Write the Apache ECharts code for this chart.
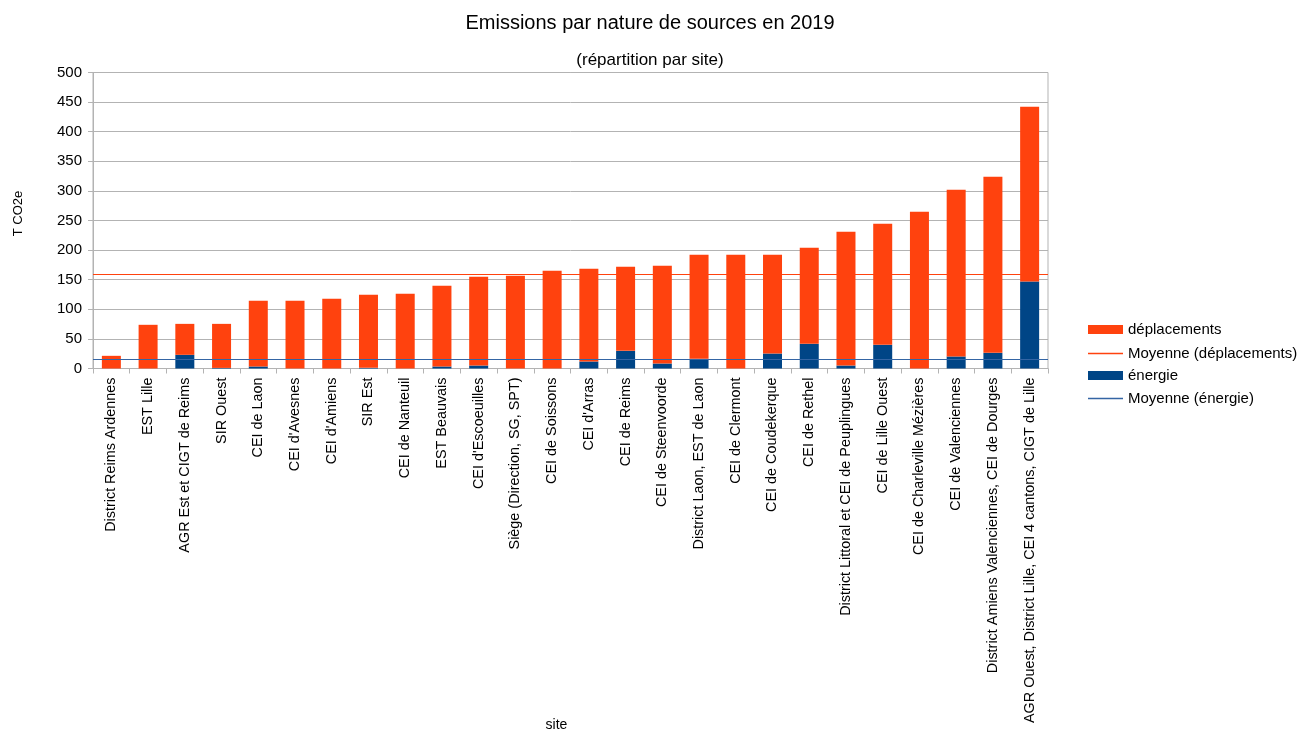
<!DOCTYPE html>
<html>
<head>
<meta charset="utf-8">
<script src="https://cdn.jsdelivr.net/npm/echarts@6/dist/echarts.min.js"></script>
<style>
html,body{margin:0;padding:0;background:#fff;}
#main{width:1301px;height:729px;}
</style>
</head>
<body>
<div id="main"></div>
<script>
const categories = [
  "District Reims Ardennes",
  "EST Lille",
  "AGR Est et CIGT de Reims",
  "SIR Ouest",
  "CEI de Laon",
  "CEI d'Avesnes",
  "CEI d'Amiens",
  "SIR Est",
  "CEI de Nanteuil",
  "EST Beauvais",
  "CEI d'Escoeuilles",
  "Siège (Direction, SG, SPT)",
  "CEI de Soissons",
  "CEI d'Arras",
  "CEI de Reims",
  "CEI de Steenvoorde",
  "District Laon, EST de Laon",
  "CEI de Clermont",
  "CEI de Coudekerque",
  "CEI de Rethel",
  "District Littoral et CEI de Peuplingues",
  "CEI de Lille Ouest",
  "CEI de Charleville Mézières",
  "CEI de Valenciennes",
  "District Amiens Valenciennes, CEI de Dourges",
  "AGR Ouest, District Lille, CEI 4 cantons, CIGT de Lille"
];
const energie = [0, 0, 23.1, 1.0, 3.4, 0, 0, 1.1, 0, 3.4, 5.0, 0, 0, 11.8, 29.8, 8.4, 16.3, 0, 25.3, 41.7, 5.0, 40.0, 0, 20.3, 26.5, 147.0];
const deplacements = [21.4, 73.8, 52.3, 74.4, 110.9, 114.3, 117.7, 123.3, 126.1, 136.2, 149.8, 156.5, 165.0, 156.5, 141.9, 165.0, 175.7, 192.0, 166.7, 162.1, 225.8, 204.4, 264.6, 281.5, 297.3, 295.0];
const yTicks = [0, 50, 100, 150, 200, 250, 300, 350, 400, 450, 500];

const mean = arr => arr.reduce((a, b) => a + b, 0) / arr.length;
const meanDepl = mean(deplacements);
const meanEner = mean(energie);

const ORANGE = '#ff420e';
const BLUE = '#004586';
const BLUE_LINE = '#3465a4';
const FONT = '"Liberation Sans", Arial, sans-serif';

const legendText = {fontFamily: FONT, fontSize: 15, color: '#000'};
function legendItem(name, top, isLine) {
  return {
    orient: 'vertical', left: 1088, top: top, padding: 0,
    itemWidth: 35, itemHeight: isLine ? 1.5 : 9, icon: 'rect',
    textStyle: legendText, data: [name]
  };
}

const chart = echarts.init(document.getElementById('main'), null, {renderer: 'canvas'});
chart.setOption({
  animation: false,
  backgroundColor: '#ffffff',
  textStyle: {fontFamily: FONT},
  title: [
    {text: 'Emissions par nature de sources en 2019', left: 645, top: 8, textAlign: 'center',
     textStyle: {fontFamily: FONT, fontSize: 20, fontWeight: 'normal', color: '#000'}},
    {text: '(répartition par site)', left: 645, top: 47, textAlign: 'center',
     textStyle: {fontFamily: FONT, fontSize: 17, fontWeight: 'normal', color: '#000'}}
  ],
  legend: [
    legendItem('déplacements', 322, false),
    legendItem('Moyenne (déplacements)', 346, true),
    legendItem('énergie', 368, false),
    legendItem('Moyenne (énergie)', 391, true)
  ],
  grid: {left: 93, right: 253, top: 72.5, bottom: 360.5, show: true, borderColor: '#b3b3b3', borderWidth: 1,
         outerBoundsMode: 'none', containLabel: false},
  xAxis: {
    type: 'category', data: categories,
    name: 'site', nameLocation: 'middle', nameGap: 350, nameMoveOverlap: false,
    nameTextStyle: {fontFamily: FONT, fontSize: 14, color: '#000', padding: [0, 28, 0, 0]},
    axisLine: {lineStyle: {color: '#b3b3b3'}},
    axisTick: {show: true, alignWithLabel: false, length: 5, lineStyle: {color: '#b3b3b3'}},
    axisLabel: {rotate: 90, interval: 0, fontFamily: FONT, fontSize: 14.4, color: '#000', margin: 9}
  },
  yAxis: {
    type: 'value', min: 0, max: 500, interval: 50,
    name: 'T CO2e', nameLocation: 'middle', nameGap: 68, nameRotate: 90,
    nameTextStyle: {fontFamily: FONT, fontSize: 13, color: '#000', padding: [0, 0, 0, 14]},
    axisLine: {show: true, lineStyle: {color: '#b3b3b3'}},
    axisTick: {show: true, length: 5, lineStyle: {color: '#b3b3b3'}},
    axisLabel: {fontFamily: FONT, fontSize: 15, color: '#000', margin: 11,
      formatter: v => yTicks.includes(v) ? String(v) : ''},
    splitLine: {lineStyle: {color: '#b3b3b3', width: 1}}
  },
  series: [
    {name: 'énergie', type: 'bar', stack: 'tot', data: energie, barWidth: 19,
     itemStyle: {color: BLUE}},
    {name: 'déplacements', type: 'bar', stack: 'tot', data: deplacements, barWidth: 19,
     itemStyle: {color: ORANGE}},
    {name: 'Moyenne (déplacements)', type: 'line', data: [], symbol: 'none', z: 5,
     lineStyle: {color: ORANGE, width: 1}, itemStyle: {color: ORANGE},
     markLine: {silent: true, symbol: ['none', 'none'], label: {show: false},
       itemStyle: {color: ORANGE},
       lineStyle: {color: ORANGE, width: 1.2, type: 'solid', opacity: 1},
       data: [{yAxis: meanDepl, lineStyle: {color: ORANGE, width: 1.2, type: 'solid'}}]}},
    {name: 'Moyenne (énergie)', type: 'line', data: [], symbol: 'none', z: 5,
     lineStyle: {color: BLUE_LINE, width: 1}, itemStyle: {color: BLUE_LINE},
     markLine: {silent: true, symbol: ['none', 'none'], label: {show: false},
       itemStyle: {color: BLUE_LINE},
       lineStyle: {color: BLUE_LINE, width: 1.2, type: 'solid', opacity: 1},
       data: [{yAxis: meanEner, lineStyle: {color: BLUE_LINE, width: 1.2, type: 'solid'}}]}}
  ]
});
</script>
</body>
</html>
